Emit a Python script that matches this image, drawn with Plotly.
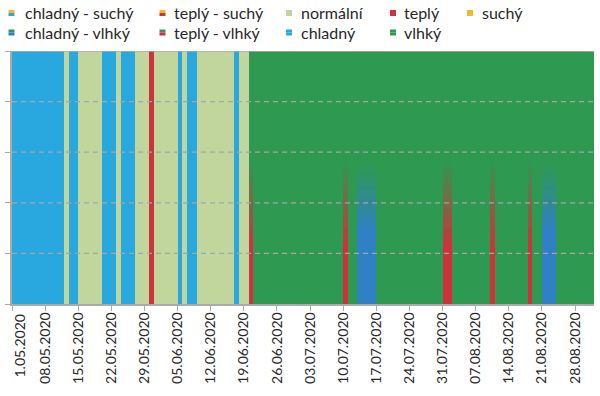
import plotly.graph_objects as go

# ---------------- data ----------------
start_labels = ["1.05.2020", "08.05.2020", "15.05.2020", "22.05.2020", "29.05.2020",
                "05.06.2020", "12.06.2020", "19.06.2020", "26.06.2020", "03.07.2020",
                "10.07.2020", "17.07.2020", "24.07.2020", "31.07.2020", "07.08.2020",
                "14.08.2020", "21.08.2020", "28.08.2020"]
tick_days = [0, 7, 14, 21, 28, 35, 42, 49, 56, 63, 70, 77, 84, 91, 98, 105, 112, 119]

# daily category codes, 1.05.2020 .. 31.08.2020
# C chladný, N normální, T teplý, V vlhký, TV teplý - vlhký, CV chladný - vlhký
day_codes = (
    ["C"] * 11 + ["N"] + ["C"] * 2 + ["N"] * 5 + ["C"] * 3 + ["N"] + ["C"] * 3 +
    ["N"] * 3 + ["T"] + ["N"] * 5 + ["C"] + ["N"] + ["C"] * 2 + ["N"] * 8 + ["C"] +
    ["N"] * 2 + ["TV"] + ["V"] * 19 + ["TV"] + ["V"] * 2 + ["CV"] * 4 + ["V"] * 14 +
    ["TV"] * 2 + ["V"] * 8 + ["TV"] + ["V"] * 7 + ["TV"] + ["V"] * 2 + ["CV"] * 3 +
    ["V"] * 8
)
bar_height = 5

legend_names = ["chladný - suchý", "teplý - suchý", "normální", "teplý", "suchý",
                "chladný - vlhký", "teplý - vlhký", "chladný", "vlhký"]

# ---------------- styles ----------------
C_BLUE = (41, 168, 224)
C_BLUE2 = (48, 128, 198)
C_NORM = (192, 214, 156)
C_RED = (208, 49, 59)
C_GREEN = (46, 153, 80)
C_YEL = (240, 185, 40)
FONT = "Lato"
TXT = "rgb(40,40,40)"
GRAY = "rgb(170,170,170)"

def rgb(c):
    return "rgb(%d,%d,%d)" % tuple(int(round(v)) for v in c)

def mix(a, b, t):
    return tuple(a[i] + (b[i] - a[i]) * t for i in range(3))

base_color = {"C": C_BLUE, "N": C_NORM, "T": C_RED, "V": C_GREEN,
              "TV": C_GREEN, "CV": C_GREEN}

fig = go.Figure()
xs = [i + 0.5 for i in range(len(day_codes))]

for code in ["C", "N", "T", "V", "TV", "CV"]:
    xx = [xs[i] for i, c in enumerate(day_codes) if c == code]
    if not xx:
        continue
    fig.add_bar(x=xx, y=[bar_height] * len(xx), base=0, width=1,
                marker=dict(color=rgb(base_color[code]), line=dict(width=0)),
                showlegend=False, hoverinfo="skip")

# gradient overlays for combined categories
grad_top = 2.79
for code, col, solid_top in [("TV", C_RED, 1.13), ("CV", C_BLUE2, 1.4)]:
    xx = [xs[i] for i, c in enumerate(day_codes) if c == code]
    fig.add_bar(x=xx, y=[solid_top] * len(xx), base=0, width=1,
                marker=dict(color=rgb(col), line=dict(width=0)),
                showlegend=False, hoverinfo="skip")
    n = 30
    step = (grad_top - solid_top) / n
    for k in range(n):
        lo = solid_top + k * step
        t = (k + 0.5) / n
        fig.add_bar(x=xx, y=[step * 1.05] * len(xx), base=lo, width=1,
                    marker=dict(color=rgb(mix(col, C_GREEN, t)), line=dict(width=0)),
                    showlegend=False, hoverinfo="skip")

W, H = 600, 396
L, R, T, B = 12, 6, 51, 92
pw, ph = W - L - R, H - T - B

def px(x):  # screen x -> paper
    return (x - L) / pw

def py(y):  # screen y -> paper
    return (H - B - y) / ph

shapes = []
for g in [1, 2, 3, 4]:
    shapes.append(dict(type="line", xref="paper", yref="y", x0=0, x1=1, y0=g, y1=g,
                       line=dict(color="rgb(165,165,165)", width=1.2, dash="5px,4px"),
                       layer="above"))
shapes.append(dict(type="line", xref="paper", yref="y", x0=0, x1=1, y0=5, y1=5,
                   line=dict(color="rgb(175,175,175)", width=1.5), layer="above"))

# manual legend: (name, marker x, text x, centre y, top colour, bottom colour)
legend_items = [
    (legend_names[0], 8.5, 22.5, 13, C_YEL, C_BLUE),
    (legend_names[1], 159.5, 171.5, 13, C_YEL, C_RED),
    (legend_names[2], 286, 298.5, 13, C_NORM, C_NORM),
    (legend_names[3], 390, 401.5, 13, C_RED, C_RED),
    (legend_names[4], 467, 479.5, 13, C_YEL, C_YEL),
    (legend_names[5], 8.5, 22.5, 32.5, C_GREEN, C_BLUE2),
    (legend_names[6], 159.5, 171.5, 32.5, C_GREEN, C_RED),
    (legend_names[7], 286, 298.5, 32.5, C_BLUE, C_BLUE),
    (legend_names[8], 390, 401.5, 32.5, C_GREEN, C_GREEN),
]
annotations = []
for name, mx, tx, my, ctop, cbot in legend_items:
    s = 6
    shapes.append(dict(type="rect", xref="paper", yref="paper",
                       x0=px(mx), x1=px(mx + s), y0=py(my), y1=py(my - s / 2),
                       fillcolor=rgb(ctop), line=dict(width=0)))
    shapes.append(dict(type="rect", xref="paper", yref="paper",
                       x0=px(mx), x1=px(mx + s), y0=py(my + s / 2), y1=py(my),
                       fillcolor=rgb(cbot), line=dict(width=0)))
    annotations.append(dict(text=name, xref="paper", yref="paper", x=px(tx),
                            y=py(my), xanchor="left", yanchor="middle", showarrow=False,
                            font=dict(family=FONT, size=16, color=TXT)))

# first tick label is nudged inside the chart, as in the original
ticktext = [""] + start_labels[1:]
annotations.append(dict(text=start_labels[0], x=tick_days[0], xref="x", y=py(313),
                        yref="paper", textangle=-90, xanchor="center", yanchor="top",
                        xshift=7, showarrow=False,
                        font=dict(family=FONT, size=14, color=TXT)))

fig.update_layout(
    width=W, height=H,
    margin=dict(l=L, r=R, t=T, b=B, pad=0, autoexpand=False),
    paper_bgcolor="white", plot_bgcolor="white",
    barmode="overlay", bargap=0,
    showlegend=False,
    shapes=shapes, annotations=annotations,
    xaxis=dict(range=[0, len(day_codes)], tickmode="array", tickvals=tick_days,
               ticktext=ticktext, tickangle=-90, ticks="outside", ticklen=5,
               tickcolor=GRAY, showline=True, linecolor=GRAY, automargin=False,
               linewidth=1.5, showgrid=False, zeroline=False, ticklabelstandoff=-4,
               tickfont=dict(family=FONT, size=14, color=TXT)),
    yaxis=dict(range=[0, bar_height], tickvals=[0, 1, 2, 3, 4, 5], showticklabels=False,
               ticks="outside", ticklen=5, tickcolor=GRAY, showline=True, automargin=False,
               linecolor=GRAY, linewidth=1.5, showgrid=False, zeroline=False),
)

fig.write_html("out.html", config={"displayModeBar": False},
               post_script="document.body.style.margin='0px';")
